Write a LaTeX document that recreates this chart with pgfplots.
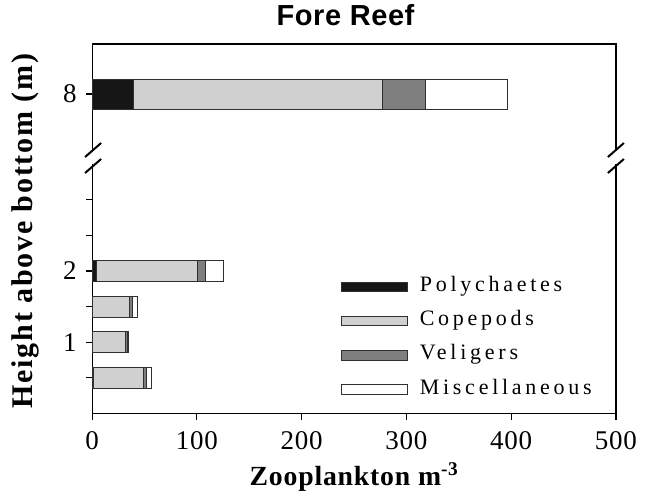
\documentclass[border=0pt]{standalone}
\usepackage{fontspec}
\setmainfont{Liberation Serif}
\newfontfamily\titlefont[LetterSpace=2]{Liberation Sans}
\newfontfamily\tickfont[LetterSpace=3]{Liberation Serif}
\newfontfamily\xlabfont[LetterSpace=3]{Liberation Serif}
\newfontfamily\ylabfont[LetterSpace=6]{Liberation Serif}
\newfontfamily\legfont[LetterSpace=17]{Liberation Serif}
\usepackage{pgfplots}
\pgfplotsset{compat=1.18}
\definecolor{poly}{HTML}{161616}
\definecolor{cope}{HTML}{D0D0D0}
\definecolor{veli}{HTML}{7F7F7F}
\definecolor{edge}{HTML}{303030}
\pgfplotsset{
  myax/.style={
    scale only axis, width=523.8pt, xmin=0, xmax=500,
    xbar stacked,
    axis line style={draw=none},
    tick style={line width=1.2pt, black},
    tick align=outside, major tick length=6pt,
    xtick pos=bottom, ytick pos=left,
    ticklabel style={font=\fontsize{27}{27}\selectfont\tickfont},
    xticklabel style={yshift=-8pt},
    yticklabel style={xshift=-6pt},
    /pgf/number format/assume math mode=true,
    clip=false,
  },
  every axis plot/.append style={draw=edge, line width=0.9pt},
}
\begin{document}
\begin{tikzpicture}
\useasboundingbox (0pt,0pt) rectangle (650pt,-496pt);
% top segment
\begin{axis}[myax, at={(92.1pt,-149pt)}, anchor=south west, height=105pt,
  ymin=7.45, ymax=8.5, bar width=30pt,
  xtick=\empty, ytick={8},
  title={\titlefont\bfseries Fore Reef},
  title style={at={(axis description cs:0.4838,1.117)}, anchor=base, font=\fontsize{29}{29}\selectfont},
]
\addplot[fill=poly] coordinates {(39,8)};
\addplot[fill=cope] coordinates {(238,8)};
\addplot[fill=veli] coordinates {(41,8)};
\addplot[fill=white] coordinates {(78,8)};
\draw[line width=1.2pt, black] (rel axis cs:0,0) |- (rel axis cs:1,1) -- (rel axis cs:1,0);
\end{axis}
% bottom segment
\begin{axis}[myax, at={(92.1pt,-413.5pt)}, anchor=south west, height=249.5pt,
  ymin=0, ymax=3.5, bar width=21pt,
  xtick={0,100,...,500}, ytick={0.5,1,...,3}, yticklabels={,1,,2,,},
  xlabel={\xlabfont\bfseries Zooplankton m\textsuperscript{-3}},
  xlabel style={at={(axis description cs:0.5,-0.2866)}, anchor=base, font=\fontsize{27.7}{28}\selectfont},
  ylabel={\ylabfont\bfseries Height above bottom (m)},
  ylabel style={at={(axis description cs:-0.128,0.731)}, anchor=center, rotate=0, font=\fontsize{30}{30}\selectfont},
  legend style={at={(axis description cs:0.4746,0.543)}, anchor=north west, draw=none, fill=none,
    inner sep=0pt, row sep=17.3pt, column sep=0pt,
    font=\fontsize{22}{22}\selectfont\legfont,
    nodes={inner sep=0pt, text height=13pt, text depth=4pt, anchor=west},
    /tikz/every odd column/.append style={column sep=12pt}},
  legend cell align=left,
  legend image code/.code={\draw[#1, line width=0.9pt] (0pt,-4.75pt) rectangle (66pt,4.75pt);},
]
\addplot[fill=poly] coordinates {(1,0.5) (0,1) (0,1.5) (4,2)};
\addplot[fill=cope] coordinates {(48,0.5) (31.5,1) (35.6,1.5) (96.5,2)};
\addplot[fill=veli] coordinates {(3,0.5) (2.5,1) (2.9,1.5) (8,2)};
\addplot[fill=white] coordinates {(4.3,0.5) (0.3,1) (4.9,1.5) (16.5,2)};
\legend{Polychaetes, Copepods, Veligers, Miscellaneous}
\draw[line width=1.2pt, black] (rel axis cs:0,1) |- (rel axis cs:1,0) -- (rel axis cs:1,1);
% break marks
\draw[line width=2pt, black] ([shift={(-7pt,7pt)}]rel axis cs:0,1) -- ([shift={(9pt,21pt)}]rel axis cs:0,1);
\draw[line width=2pt, black] ([shift={(-7pt,-9pt)}]rel axis cs:0,1) -- ([shift={(9pt,5pt)}]rel axis cs:0,1);
\draw[line width=2pt, black] ([shift={(-8pt,7pt)}]rel axis cs:1,1) -- ([shift={(8pt,21pt)}]rel axis cs:1,1);
\draw[line width=2pt, black] ([shift={(-8pt,-9pt)}]rel axis cs:1,1) -- ([shift={(8pt,5pt)}]rel axis cs:1,1);
\end{axis}
\end{tikzpicture}
\end{document}
